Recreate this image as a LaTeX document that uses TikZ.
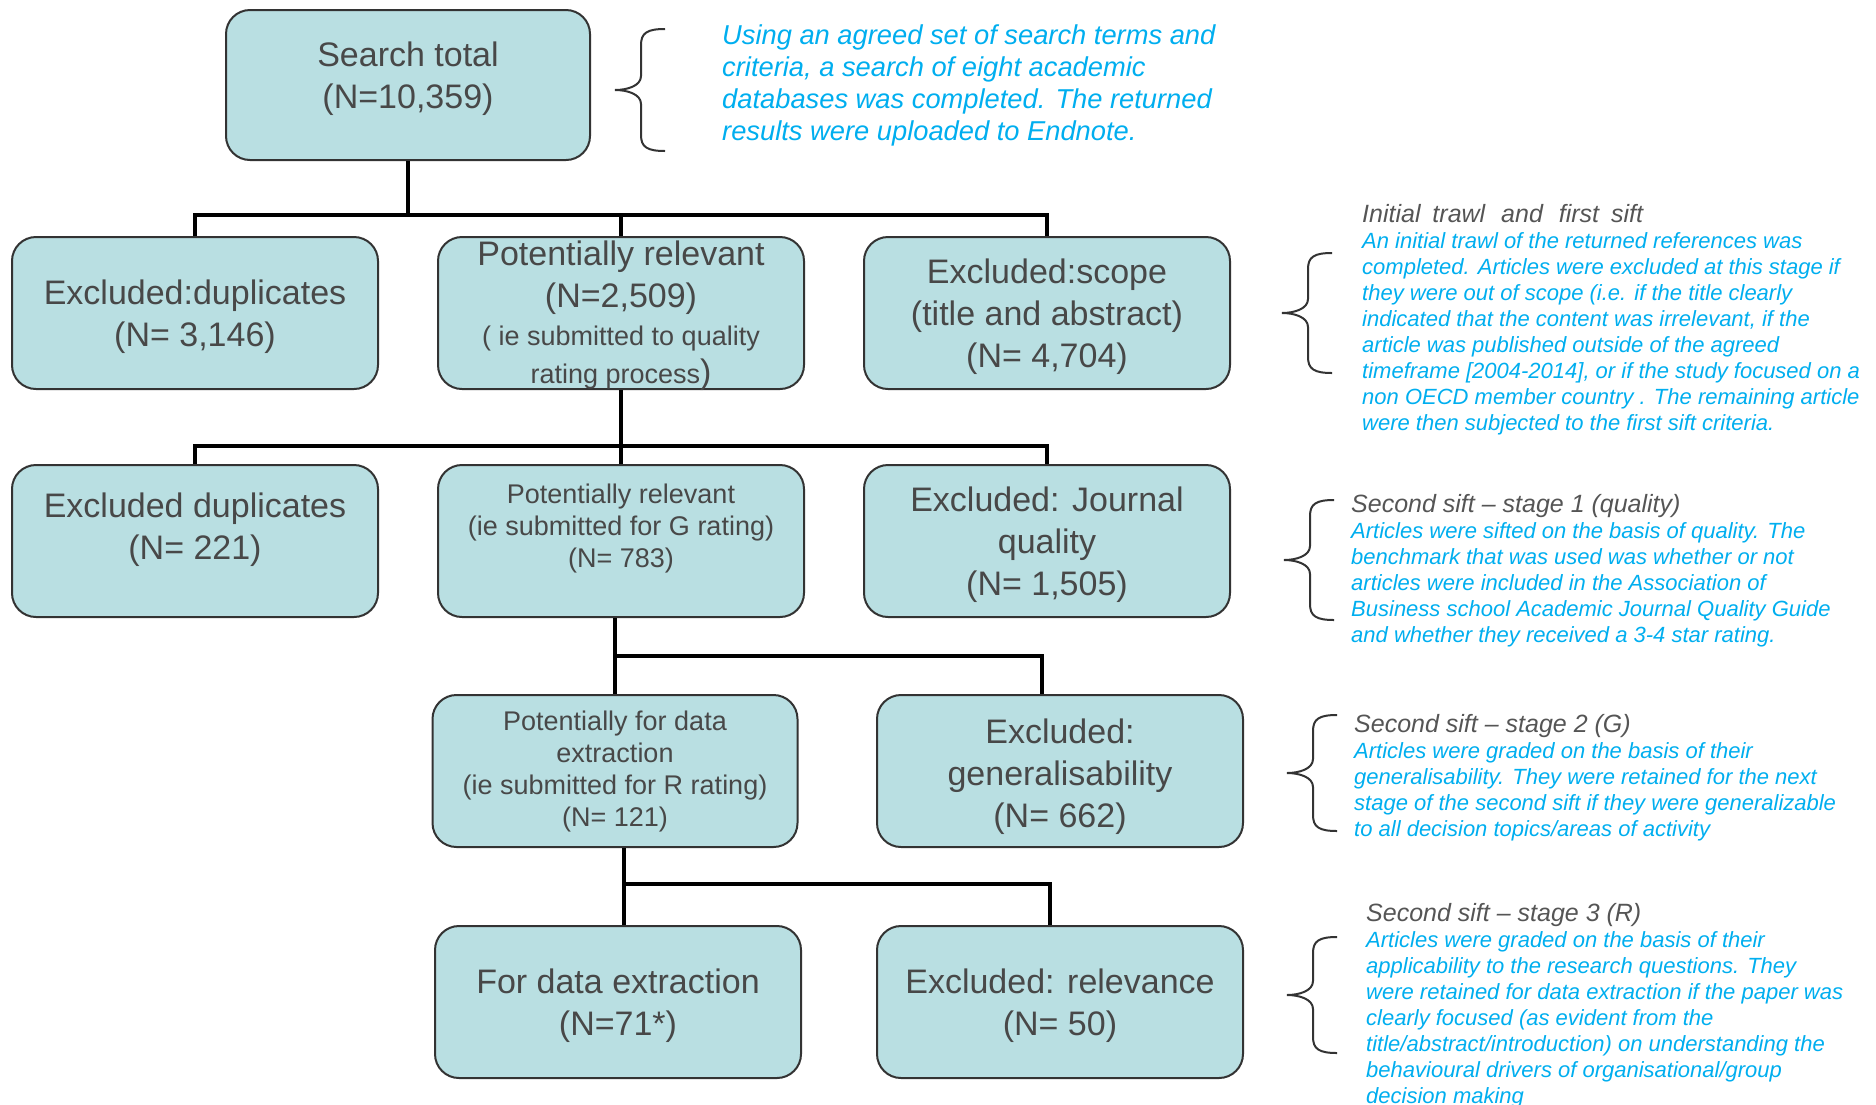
\documentclass[tikz,border=0pt]{standalone}
\usepackage{fontspec}
\setmainfont{Liberation Sans}
\usetikzlibrary{positioning}
\definecolor{boxfill}{RGB}{185,223,226}
\definecolor{boxline}{RGB}{51,51,51}
\definecolor{boxtext}{RGB}{72,72,72}
\definecolor{noteblue}{RGB}{0,174,239}
\definecolor{notehead}{RGB}{85,85,85}
\newcommand{\liftby}[2]{\raisebox{#1}[0.9\height][0.9\depth]{\begin{tabular}{@{}c@{}}#2\end{tabular}}}

\begin{document}
\begin{tikzpicture}[x=1pt, y=-1pt,
  stagebox/.style={draw=boxline, line width=2pt, fill=boxfill, rounded corners=24pt,
    minimum width=366pt, minimum height=152pt, inner sep=0pt, align=center,
    text=boxtext, font=\fontsize{34}{42}\selectfont},
  smalltext/.style={font=\fontsize{27}{32}\selectfont},
  link/.style={line width=4pt, black},
  bracket/.style={line width=2pt, black!80},
  note/.style={anchor=north west, inner sep=0pt, align=left, text=noteblue,
    font=\itshape\fontsize{22}{26}\selectfont}]
\useasboundingbox (0,0) rectangle (1876,1104);

\node [stagebox, minimum width=364pt, minimum height=150pt] (search) at (408,85)
  {\liftby{5pt}{Search total\\(N=10,359)}};

\node [stagebox] (exdup) at (195,313) {\liftby{-5pt}{Excluded:duplicates\\(N= 3,146)}};
\node [stagebox] (potrel) at (621,313)
  {\liftby{-4pt}{Potentially relevant\\(N=2,509)\\[-4pt]{\fontsize{27}{32}\selectfont ( ie submitted to quality}\\[-4pt]{\fontsize{27}{32}\selectfont rating process})}};
\node [stagebox] (exscope) at (1047,313) {\liftby{-5pt}{Excluded:scope\\(title and abstract)\\(N= 4,704)}};

\node [stagebox] (exdup2) at (195,541) {\liftby{10pt}{Excluded duplicates\\(N= 221)}};
\node [stagebox, smalltext] (potrel2) at (621,541)
  {\liftby{11pt}{Potentially relevant\\(ie submitted for G rating)\\(N= 783)}};
\node [stagebox] (exjour) at (1047,541) {\liftby{-5pt}{Excluded: Journal\\quality\\(N= 1,505)}};

\node [stagebox, smalltext, minimum width=365pt] (potdata) at (615,771)
  {\liftby{-2pt}{Potentially for data\\extraction\\(ie submitted for R rating)\\(N= 121)}};
\node [stagebox] (exgen) at (1060,771) {\liftby{-7pt}{Excluded:\\generalisability\\(N= 662)}};

\node [stagebox] (fordata) at (618,1002) {\liftby{-5pt}{For data extraction\\(N=71*)}};
\node [stagebox] (exrel) at (1060,1002) {\liftby{-5pt}{Excluded: relevance\\(N= 50)}};

\draw [link] (search.south) -- ++(0,54) coordinate (fork1) -| (exdup.north);
\draw [link] (fork1) -| (potrel.north);
\draw [link] (fork1) -| (exscope.north);

\draw [link] (potrel.south) -- ++(0,56) coordinate (fork2) -| (exdup2.north);
\draw [link] (fork2) -- (potrel2.north);
\draw [link] (fork2) -| (exjour.north);

\draw [link] (potrel2.south -| potdata.north) coordinate (fork3) -- (potdata.north);
\draw [link] (fork3) -- ++(0,38) -| ([xshift=-18pt]exgen.north);

\draw [link] ([xshift=9pt]potdata.south) coordinate (fork4) -- (fork4 |- fordata.north);
\draw [link] (fork4) -- ++(0,36) -| ([xshift=-10pt]exrel.north);

\foreach \xe/\yt/\yb in {665/29/151, 1332/253/373, 1334/500/620, 1337/715/831, 1337/937/1053} {
  \pgfmathsetmacro{\ym}{(\yt+\yb)/2}
  \draw [bracket] (\xe,\yt) .. controls (\xe-18,\yt) and (\xe-24,\yt+4) .. (\xe-24,\yt+16)
    -- (\xe-24,\ym-14) .. controls (\xe-24,\ym-4) and (\xe-38,\ym) .. (\xe-50,\ym)
    .. controls (\xe-38,\ym) and (\xe-24,\ym+4) .. (\xe-24,\ym+14)
    -- (\xe-24,\yb-16) .. controls (\xe-24,\yb-4) and (\xe-18,\yb) .. (\xe,\yb);
}

\node [note, font=\itshape\fontsize{27.3}{32}\selectfont] (note0) at (722,25)
  {Using an agreed set of search terms and\\criteria, a search of eight academic\\databases was completed. The returned\\results were uploaded to Endnote.};

\node [note] (note1) at (1362,204)
  {{\color{notehead}\fontsize{25}{25}\selectfont Initial\hspace{5pt} trawl\hspace{9pt} and\hspace{9pt} first\hspace{5pt} sift}\\
   An initial trawl of the returned references was\\
   completed. Articles were excluded at this stage if\\
   they were out of scope (i.e. if the title clearly\\
   indicated that the content was irrelevant, if the\\
   article was published outside of the agreed\\
   timeframe [2004-2014], or if the study focused on a\\
   non OECD member country . The remaining article\\
   were then subjected to the first sift criteria.};

\node [note] (note2) at (1351,494)
  {{\color{notehead}\fontsize{25}{25}\selectfont Second sift -- stage 1 (quality)}\\
   Articles were sifted on the basis of quality. The\\
   benchmark that was used was whether or not\\
   articles were included in the Association of\\
   Business school Academic Journal Quality Guide\\
   and whether they received a 3-4 star rating.};

\node [note] (note3) at (1354,714)
  {{\color{notehead}\fontsize{25}{25}\selectfont Second sift -- stage 2 (G)}\\
   Articles were graded on the basis of their\\
   generalisability. They were retained for the next\\
   stage of the second sift if they were generalizable\\
   to all decision topics/areas of activity};

\node [note] (note4) at (1366,903)
  {{\color{notehead}\fontsize{25}{25}\selectfont Second sift -- stage 3 (R)}\\
   Articles were graded on the basis of their\\
   applicability to the research questions. They\\
   were retained for data extraction if the paper was\\
   clearly focused (as evident from the\\
   title/abstract/introduction) on understanding the\\
   behavioural drivers of organisational/group\\
   decision making};
\end{tikzpicture}
\end{document}
